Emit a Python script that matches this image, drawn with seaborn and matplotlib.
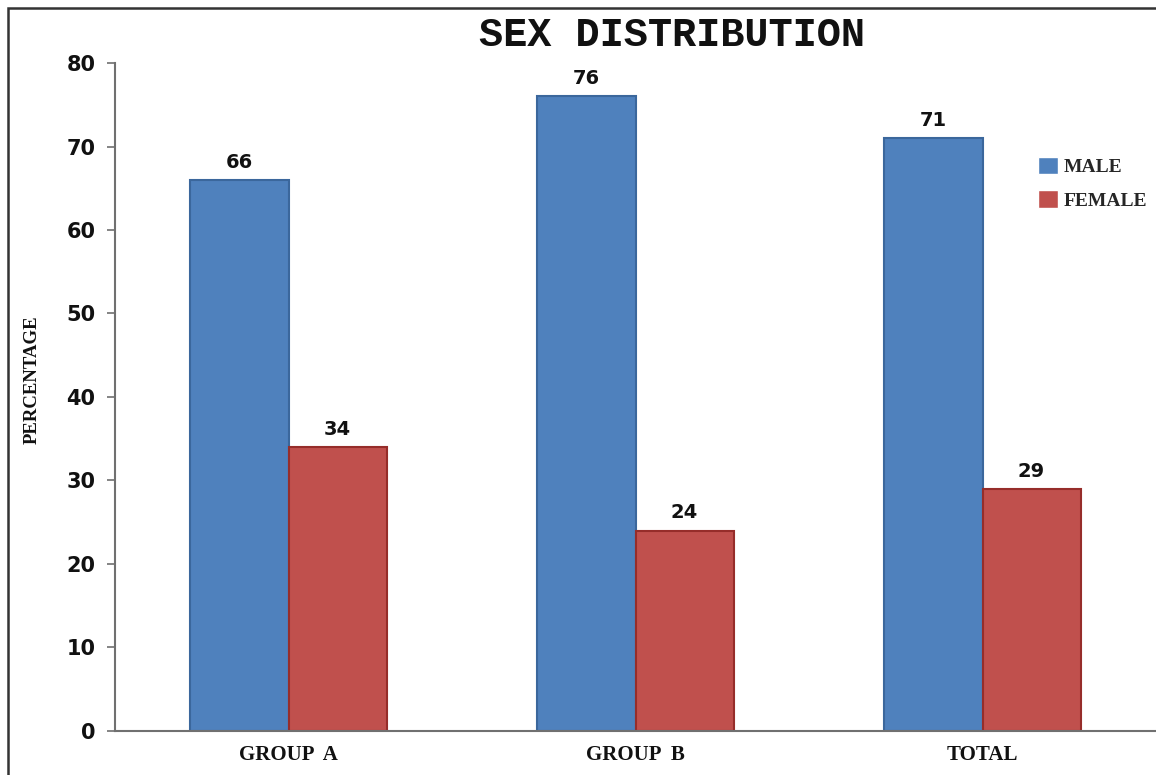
"Sex distribution bar chart"
import pandas as pd
import matplotlib
matplotlib.use('Agg')
import matplotlib.pyplot as plt
import seaborn as sns
from matplotlib.patches import Rectangle

groups = ['GROUP A', 'GROUP B', 'TOTAL']
male = [66, 76, 71]
female = [34, 24, 29]
sexes = ['MALE', 'FEMALE']
colors = {'MALE': '#4F81BD', 'FEMALE': '#C0504D'}
edges = {'MALE': '#3B679C', 'FEMALE': '#962D2A'}

df = pd.DataFrame({
    'group': groups * 2,
    'sex': ['MALE'] * len(groups) + ['FEMALE'] * len(groups),
    'pct': male + female,
})

sns.set_style('white')
fig = plt.figure(figsize=(11.56, 7.75), dpi=100)
ax = fig.add_axes([0.0995, 0.0568, 0.9005, 0.8619])

sns.barplot(data=df, x='group', y='pct', hue='sex', hue_order=sexes,
            palette=colors, width=0.565, gap=0, saturation=1, ax=ax,
            errorbar=None, legend=True)

# darker outlines like the original
for cont, s in zip(ax.containers, sexes):
    for bar in cont:
        bar.set_edgecolor(edges[s])
        bar.set_linewidth(1.5)
    ax.bar_label(cont, padding=6, fontsize=14, fontweight='bold',
                 family='DejaVu Sans', color='#111111')

ax.set_xlim(-0.5, 2.5)
ax.set_ylim(0, 80)
ax.set_yticks(range(0, 81, 10))
ax.set_xlabel('')
ax.set_ylabel('')

for side in ['top', 'right']:
    ax.spines[side].set_visible(False)
for side in ['left', 'bottom']:
    ax.spines[side].set_color('#707070')
    ax.spines[side].set_linewidth(1.5)

ax.tick_params(axis='y', which='major', length=6, width=1.2, color='#707070',
               direction='out', pad=8, left=True)
ax.tick_params(axis='x', length=0, pad=10)
for lbl in ax.get_yticklabels():
    lbl.set_fontsize(15)
    lbl.set_fontweight('bold')
    lbl.set_family('DejaVu Sans')
    lbl.set_color('#111111')
ax.set_xticks(range(len(groups)))
ax.set_xticklabels([g.replace(' ', '  ') for g in groups])
for lbl in ax.get_xticklabels():
    lbl.set_fontsize(15)
    lbl.set_fontweight('bold')
    lbl.set_family('Liberation Serif')
    lbl.set_color('#111111')

fig.text(0.028, 0.51, 'PERCENTAGE', rotation=90, ha='center', va='center',
         fontsize=13.5, fontweight='bold', family='Liberation Serif',
         color='#111111')

fig.text(0.581, 0.955, 'SEX DISTRIBUTION', ha='center', va='center',
         fontsize=29, fontweight='bold', family='Liberation Mono',
         color='#111111')

ax.legend(loc='upper left', bbox_to_anchor=(0.898, 0.798),
          bbox_transform=fig.transFigure, frameon=False,
          handlelength=1.0, handleheight=1.0, handletextpad=0.3,
          labelspacing=0.75, borderpad=0, borderaxespad=0,
          prop={'family': 'Liberation Serif', 'weight': 'bold', 'size': 14})

# outer frame (cropped on the right and bottom in the original)
fig.patches.append(Rectangle((8 / 1156, -0.1), 1.2, 1.1 - 8 / 775,
                             transform=fig.transFigure, fill=False,
                             edgecolor='#333333', linewidth=1.8))

fig.savefig('out.png', dpi=100)
